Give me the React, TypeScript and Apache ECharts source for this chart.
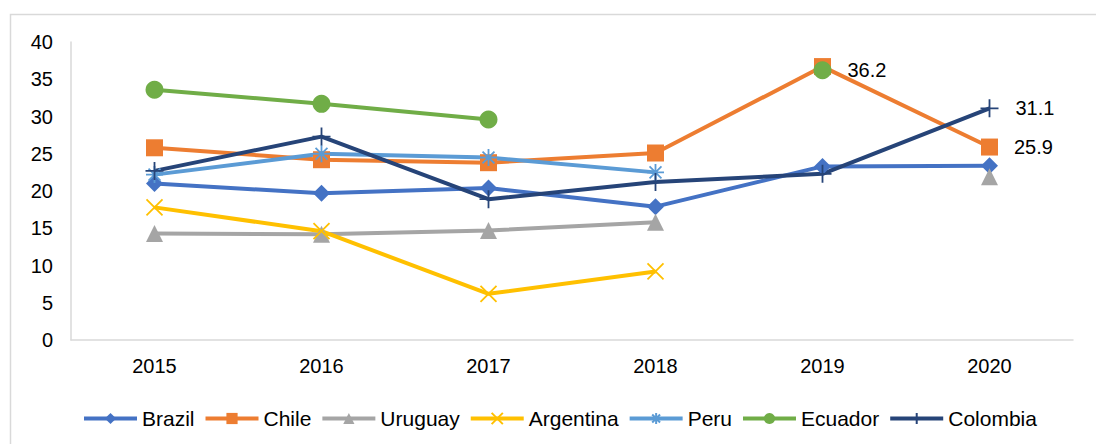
import React, { useEffect, useRef } from "react";
import * as echarts from "echarts";

const years = ["2015", "2016", "2017", "2018", "2019", "2020"];
const yTicks = { min: 0, max: 40, interval: 5 };

const brazil = [21.0, 19.7, 20.4, 17.9, 23.3, 23.4];
const chile = [25.8, 24.2, 23.8, 25.1, 36.7, 25.9];
const uruguay = [14.3, 14.2, 14.7, 15.8, null, 21.9];
const argentina = [17.8, 14.6, 6.2, 9.2, null, null];
const peru = [22.2, 25.0, 24.5, 22.5, null, null];
const ecuador = [33.6, 31.7, 29.6, null, 36.2, null];
const colombia = [22.7, 27.3, 18.9, 21.2, 22.3, 31.1];

// indices of points carrying a value label
const labelled: Record<string, number[]> = {
  Chile: [5],
  Ecuador: [4],
  Colombia: [5],
};

const FONT = "Liberation Sans, Arial, sans-serif";

const seriesDefs = [
  { name: "Brazil", data: brazil, color: "#4472C4", symbol: "diamond", size: 17, stroke: false },
  { name: "Chile", data: chile, color: "#ED7D31", symbol: "rect", size: 17, stroke: false },
  { name: "Uruguay", data: uruguay, color: "#A5A5A5", symbol: "triangle", size: 17, stroke: false },
  { name: "Argentina", data: argentina, color: "#FFC000", symbol: "path://M0,0L10,10M10,0L0,10", size: 16, stroke: true },
  { name: "Peru", data: peru, color: "#5B9BD5", symbol: "path://M5,0L5,10M0,5L10,5M1.5,1.5L8.5,8.5M8.5,1.5L1.5,8.5", size: 17, stroke: true },
  { name: "Ecuador", data: ecuador, color: "#70AD47", symbol: "circle", size: 18, stroke: false },
  { name: "Colombia", data: colombia, color: "#264478", symbol: "path://M5,0L5,10M0,5L10,5", size: 18, stroke: true },
];

export default function App() {
  const ref = useRef<HTMLDivElement>(null);
  useEffect(() => {
    document.body.style.margin = "0";
    if (!ref.current) return;
    const chart = echarts.init(ref.current, undefined, { renderer: "svg" });
    const series = seriesDefs.map((s) => ({
      name: s.name,
      type: "line",
      data: s.data.map((v, i) =>
        (labelled[s.name] || []).includes(i) && v != null
          ? { value: v, label: { show: true } }
          : v
      ),
      connectNulls: false,
      symbol: s.symbol,
      symbolSize: s.size,
      showAllSymbol: true,
      lineStyle: { color: s.color, width: 4 },
      itemStyle: s.stroke
        ? { color: s.color, borderColor: s.color, borderWidth: 1.8 }
        : { color: s.color, borderWidth: 0 },
      label: {
        show: false,
        position: "right",
        distance: 16,
        color: "#000",
        fontSize: 20,
        fontFamily: FONT,
      },
      emphasis: { disabled: true },
    }));
    chart.setOption({
      animation: false,
      backgroundColor: "#fff",
      graphic: [
        {
          type: "rect",
          z: -10,
          shape: { x: 10.5, y: 14.5, width: 1200, height: 600 },
          style: { fill: "none", stroke: "#d9d9d9", lineWidth: 1.5 },
          silent: true,
        },
      ],
      grid: { left: 71, right: 23, top: 42, bottom: 104 },
      xAxis: {
        type: "category",
        data: years,
        boundaryGap: true,
        axisLine: { show: true, lineStyle: { color: "#d9d9d9", width: 1.5 } },
        axisTick: { show: false },
        axisLabel: { color: "#000", fontSize: 20, fontFamily: FONT, margin: 16 },
      },
      yAxis: {
        type: "value",
        min: yTicks.min,
        max: yTicks.max,
        interval: yTicks.interval,
        axisLine: { show: true, lineStyle: { color: "#d9d9d9", width: 1.5 } },
        axisTick: { show: false },
        splitLine: { show: false },
        axisLabel: { color: "#000", fontSize: 20, fontFamily: FONT, margin: 18 },
      },
      legend: {
        top: 403,
        left: 77,
        itemWidth: 53,
        itemHeight: 14,
        itemGap: 9,
        lineStyle: { width: 4 },
        textStyle: { color: "#000", fontSize: 21, fontFamily: FONT },
        data: seriesDefs.map((s) => s.name),
      },
      series,
    });
    return () => chart.dispose();
  }, []);
  return <div ref={ref} style={{ width: 1096, height: 444 }} />;
}
